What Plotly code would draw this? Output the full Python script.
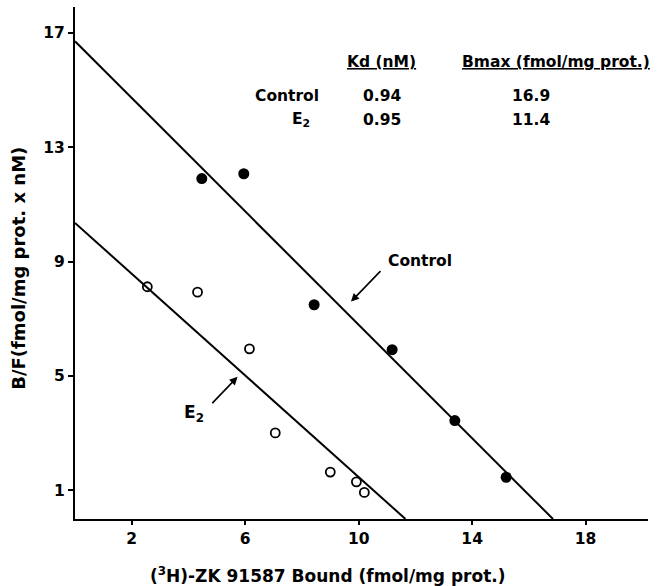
import plotly.graph_objects as go

# ---- data ----
control_x = [4.47, 5.95, 8.43, 11.18, 13.39, 15.2]
control_y = [11.9, 12.07, 7.49, 5.92, 3.44, 1.46]
e2_x = [2.55, 4.32, 6.15, 7.06, 9.0, 9.92, 10.2]
e2_y = [8.12, 7.93, 5.95, 3.01, 1.64, 1.3, 0.93]

control_line_x = [0, 16.85]
control_line_y = [16.7, 0]
e2_line_x = [0, 11.65]
e2_line_y = [10.35, 0]

x_ticks = [2, 6, 10, 14, 18]
y_ticks = [1, 5, 9, 13, 17]

table_rows = ["Control", "E<sub>2</sub>"]
kd_values = ["0.94", "0.95"]
bmax_values = ["16.9", "11.4"]

FONT = "DejaVu Sans"

fig = go.Figure()
fig.add_trace(go.Scatter(x=control_line_x, y=control_line_y, mode="lines",
                         line=dict(color="black", width=2), showlegend=False))
fig.add_trace(go.Scatter(x=e2_line_x, y=e2_line_y, mode="lines",
                         line=dict(color="black", width=2), showlegend=False))
fig.add_trace(go.Scatter(x=control_x, y=control_y, mode="markers",
                         marker=dict(symbol="circle", size=11, color="black"),
                         showlegend=False))
fig.add_trace(go.Scatter(x=e2_x, y=e2_y, mode="markers",
                         marker=dict(symbol="circle-open", size=9, color="black",
                                     line=dict(width=1.8)),
                         showlegend=False))

anns = []
tf = dict(family=FONT, size=15.5, color="black", weight="bold")
# table headers
anns.append(dict(x=10.8, y=15.96, xref="x", yref="y", text="<u>Kd (nM)</u>",
                 xanchor="center", showarrow=False, font=tf))
anns.append(dict(x=16.94, y=15.96, xref="x", yref="y",
                 text="<u>Bmax (fmol/mg prot.)</u>", xanchor="center",
                 showarrow=False, font=tf))
row_y = [14.78, 13.95]
row_right = [8.68, 8.36]
for i, lab in enumerate(table_rows):
    anns.append(dict(x=row_right[i], y=row_y[i], xref="x", yref="y", text=lab,
                     xanchor="right", showarrow=False, font=tf))
    anns.append(dict(x=10.84, y=row_y[i], xref="x", yref="y", text=kd_values[i],
                     xanchor="center", showarrow=False, font=tf))
    anns.append(dict(x=16.09, y=row_y[i], xref="x", yref="y", text=bmax_values[i],
                     xanchor="center", showarrow=False, font=tf))

# arrow labels
anns.append(dict(x=9.73, y=7.6, ax=10.82, ay=8.72, xref="x", yref="y",
                 axref="x", ayref="y", text="", showarrow=True,
                 arrowhead=2, arrowsize=1, arrowwidth=1.6, arrowcolor="black"))
anns.append(dict(x=12.16, y=9.01, xref="x", yref="y", text="Control",
                 xanchor="center", showarrow=False, font=tf))
anns.append(dict(x=5.73, y=4.97, ax=4.79, ay=4.0, xref="x", yref="y",
                 axref="x", ayref="y", text="", showarrow=True,
                 arrowhead=2, arrowsize=1, arrowwidth=1.6, arrowcolor="black"))
anns.append(dict(x=4.2, y=3.7, xref="x", yref="y", text="E<sub>2</sub>",
                 xanchor="center", showarrow=False,
                 font=dict(family=FONT, size=17, color="black", weight="bold")))

# axis titles
anns.append(dict(x=-0.1, y=0.49, xref="paper", yref="paper", textangle=-90,
                 xanchor="center", yanchor="middle",
                 text="B/F(fmol/mg prot. x nM)", showarrow=False,
                 font=dict(family=FONT, size=18, color="black", weight="bold")))
anns.append(dict(x=0.4415, y=-0.109, xref="paper", yref="paper",
                 xanchor="center", yanchor="middle",
                 text="(<sup>3</sup>H)-ZK 91587 Bound (fmol/mg prot.)",
                 showarrow=False,
                 font=dict(family=FONT, size=17, color="black", weight="bold")))

tickf = dict(family=FONT, size=15.5, color="black", weight="bold")
fig.update_layout(
    width=658, height=586,
    margin=dict(l=75, r=10, t=7, b=67, autoexpand=False),
    paper_bgcolor="white", plot_bgcolor="white",
    annotations=anns,
    xaxis=dict(range=[0, 20.2], tickvals=x_ticks, showgrid=False, zeroline=False,
               automargin=False,
               showline=True, linecolor="black", linewidth=2,
               ticks="outside", ticklen=4, tickwidth=1.5, tickcolor="black",
               tickfont=tickf),
    yaxis=dict(range=[0, 17.9], tickvals=y_ticks, showgrid=False, zeroline=False,
               automargin=False,
               showline=True, linecolor="black", linewidth=2,
               ticks="outside", ticklen=5, tickwidth=1.5, tickcolor="black",
               tickfont=tickf),
)

fig.write_html("out.html", config={"displayModeBar": False},
               post_script="document.body.style.margin='0';document.body.style.padding='0';")
